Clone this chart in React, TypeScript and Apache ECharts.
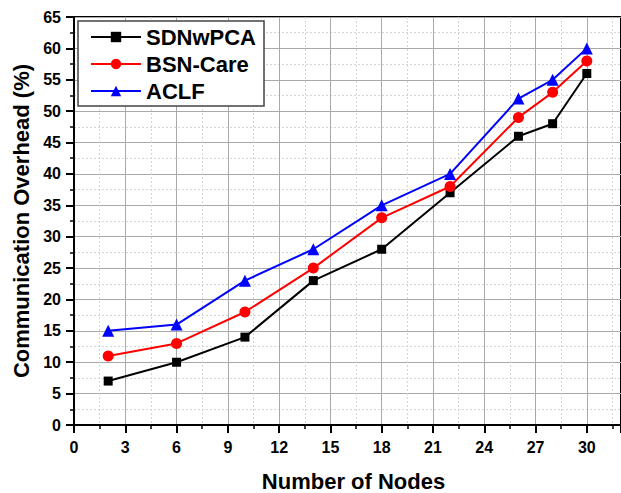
import React, { useEffect, useRef } from "react";
import * as echarts from "echarts";

const nodes = [2, 6, 10, 14, 18, 22, 26, 28, 30];
const sdnwpca = [7, 10, 14, 23, 28, 37, 46, 48, 56];
const bsnCare = [11, 13, 18, 25, 33, 38, 49, 53, 58];
const aclf = [15, 16, 23, 28, 35, 40, 52, 55, 60];

const FONT = "Arial, 'Liberation Sans', sans-serif";

export default function App() {
  const ref = useRef<HTMLDivElement>(null);
  useEffect(() => {
    if (!ref.current) return;
    const chart = echarts.init(ref.current, undefined, { renderer: "svg" });
    const pair = (ys: number[]) => nodes.map((x, i) => [x, ys[i]]);
    const mk = (name: string, ys: number[], color: string, symbol: string, size: number) => ({
      name,
      type: "line",
      data: pair(ys),
      symbol,
      symbolSize: size,
      itemStyle: { color },
      lineStyle: { color, width: 2 },
    });
    chart.setOption({
      animation: false,
      backgroundColor: "#ffffff",
      textStyle: { fontFamily: FONT },
      grid: {
        left: 74,
        top: 17,
        right: 0,
        bottom: 68,
        outerBoundsMode: "none",
        containLabel: false,
        show: true,
        borderColor: "#000",
        borderWidth: 2,
      },
      legend: {
        left: 78,
        top: 21,
        orient: "vertical",
        backgroundColor: "#fff",
        borderColor: "#444",
        borderWidth: 1.5,
        borderRadius: 0,
        padding: [5, 8, 4, 12],
        itemWidth: 50,
        itemHeight: 13,
        itemGap: 5,
        textStyle: {
          fontFamily: FONT,
          fontWeight: "bold",
          fontSize: 22,
          color: "#000",
          lineHeight: 22,
        },
        data: ["SDNwPCA", "BSN-Care", "ACLF"],
      },
      xAxis: {
        type: "value",
        min: 0,
        max: 32,
        interval: 3,
        name: "Number of Nodes",
        nameLocation: "middle",
        nameGap: 45,
        nameTextStyle: {
          fontFamily: FONT,
          fontWeight: "bold",
          fontSize: 22,
          color: "#000",
          padding: [0, 0, 0, 12],
        },
        axisLine: { show: true, onZero: false, lineStyle: { color: "#000", width: 2 } },
        axisTick: { show: true, inside: false, length: 8, lineStyle: { color: "#000", width: 2 } },
        minorTick: { show: true, splitNumber: 2, length: 4, lineStyle: { color: "#000", width: 1.5 } },
        axisLabel: {
          margin: 14,
          fontFamily: FONT,
          fontWeight: "bold",
          fontSize: 16,
          color: "#000",
          showMaxLabel: false,
        },
        splitLine: { show: true, lineStyle: { color: "#a9a9a9", width: 1 } },
        minorSplitLine: { show: true, lineStyle: { color: "#d4d4d4", width: 1, type: [2, 2] } },
      },
      yAxis: {
        type: "value",
        min: 0,
        max: 65,
        interval: 5,
        name: "Communication Overhead (%)",
        nameLocation: "middle",
        nameGap: 42,
        nameRotate: 90,
        nameTextStyle: { fontFamily: FONT, fontWeight: "bold", fontSize: 22, color: "#000" },
        axisLine: { show: true, onZero: false, lineStyle: { color: "#000", width: 2 } },
        axisTick: { show: true, inside: false, length: 8, lineStyle: { color: "#000", width: 2 } },
        minorTick: { show: true, splitNumber: 2, length: 4, lineStyle: { color: "#000", width: 1.5 } },
        axisLabel: {
          margin: 13,
          fontFamily: FONT,
          fontWeight: "bold",
          fontSize: 16,
          color: "#000",
        },
        splitLine: { show: true, lineStyle: { color: "#a9a9a9", width: 1 } },
        minorSplitLine: { show: true, lineStyle: { color: "#d4d4d4", width: 1, type: [2, 2] } },
      },
      series: [
        mk("SDNwPCA", sdnwpca, "#000000", "rect", 9),
        mk("BSN-Care", bsnCare, "#ff0000", "circle", 11),
        mk("ACLF", aclf, "#0000ff", "triangle", 12),
      ],
    });
    return () => chart.dispose();
  }, []);
  return (
    <div
      ref={ref}
      style={{ position: "fixed", left: 0, top: 0, width: 621, height: 493, background: "#fff" }}
    />
  );
}
